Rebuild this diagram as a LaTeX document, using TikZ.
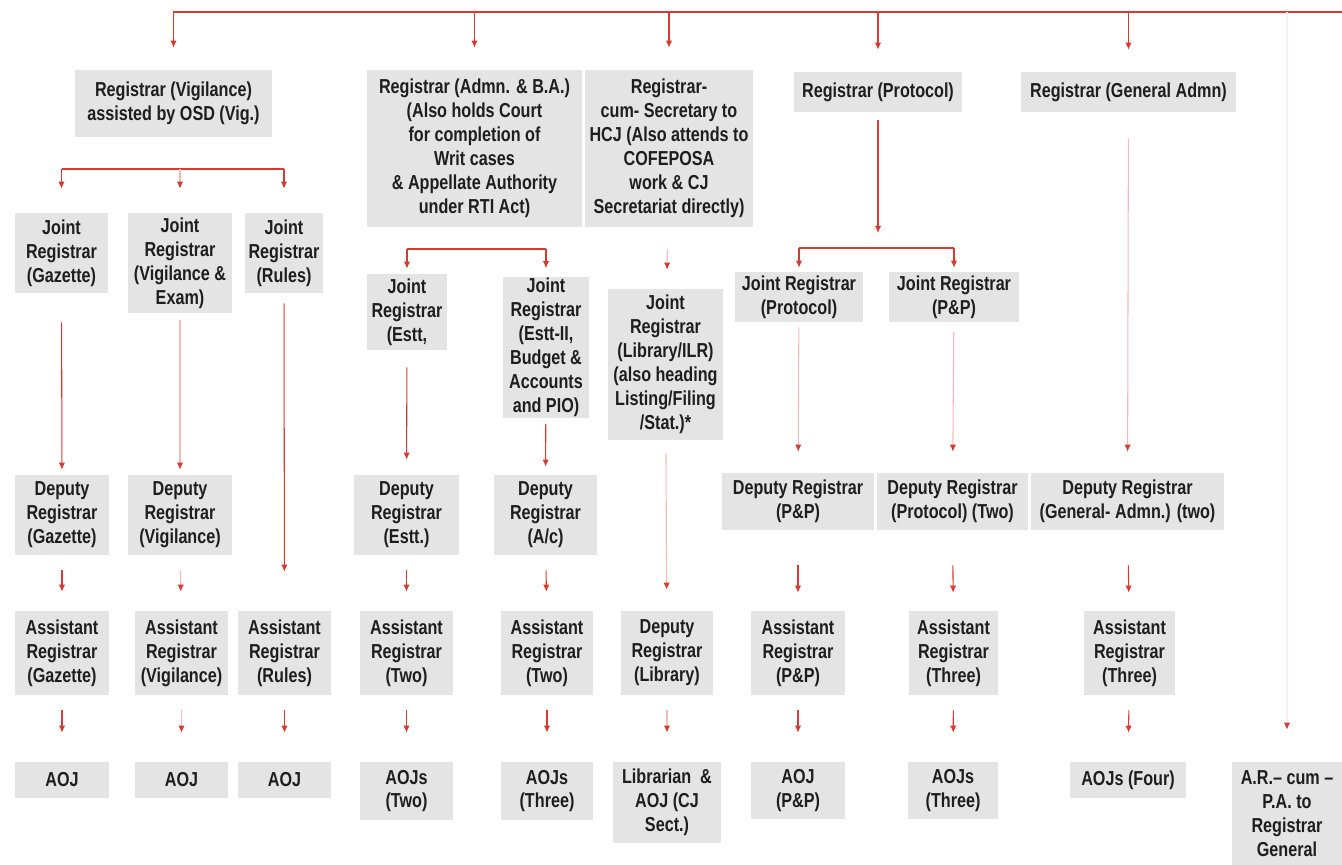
\documentclass[tikz,border=0pt]{standalone}
\usepackage{fontspec}
\setmainfont{Liberation Sans}[FakeStretch=0.8]
\usetikzlibrary{arrows.meta}
\definecolor{boxgray}{HTML}{E4E4E4}
\definecolor{linkred}{HTML}{D63A30}
\definecolor{txt}{HTML}{1E1E1E}
\begin{document}
\begin{tikzpicture}[x=0.02cm,y=-0.02cm,line join=round,
	box/.style={fill=boxgray,align=center,inner sep=1pt,text=txt,font=\bfseries\fontsize{11.5}{13.6}\selectfont},
	sz/.style 2 args={minimum width=#1*0.02cm,minimum height=#2*0.02cm},
	gap/.style 2 args={shorten <=#1*0.02cm,shorten >=#2*0.02cm},
	bar/.style={draw=linkred,line width=.6pt},
	link/.style={bar,-{Latex[length=4pt,width=3.6pt]}},
	faint/.style={draw=linkred!35,line width=.6pt,-{Latex[length=4pt,width=3.6pt,color=linkred]}}]
	\useasboundingbox (0,0) rectangle (1342,865);
	% registrars
	\node[box,sz={197}{67}] (regvig) at (173.5,103.5) {Registrar (Vigilance)\\assisted by OSD (Vig.)};
	\node[box,sz={215}{157}] (regadm) at (474.5,148.5) {Registrar (Admn. \& B.A.)\\(Also holds Court\\for completion of\\Writ cases\\\& Appellate Authority\\under RTI Act)};
	\node[box,sz={168}{157}] (regsec) at (669,148.5) {Registrar-\\cum- Secretary to\\HCJ (Also attends to\\COFEPOSA\\work \& CJ\\Secretariat directly)};
	\node[box,sz={168}{40}] (regprot) at (878,92) {Registrar (Protocol)};
	\node[box,sz={215}{40}] (reggen) at (1128.5,92) {Registrar (General Admn)};
	% joint registrars
	\node[box,sz={93}{80}] (jrgaz) at (61.5,253) {Joint\\Registrar\\(Gazette)};
	\node[box,sz={104}{100}] (jrvig) at (180,263) {Joint\\Registrar\\(Vigilance \&\\Exam)};
	\node[box,sz={78}{80}] (jrrules) at (284,253) {Joint\\Registrar\\(Rules)};
	\node[box,sz={80}{76}] (jrestt) at (407,312) {Joint\\Registrar\\(Estt,};
	\node[box,sz={86}{141}] (jrbud) at (546,347.5) {Joint\\Registrar\\(Estt-II,\\Budget \&\\Accounts\\and PIO)};
	\node[box,sz={115}{151}] (jrlib) at (665.5,364.5) {Joint\\Registrar\\(Library/ILR)\\(also heading\\Listing/Filing\\/Stat.)*};
	\node[box,sz={128}{50}] (jrprot) at (799,297) {Joint Registrar\\(Protocol)};
	\node[box,sz={130}{50}] (jrpp) at (954,297) {Joint Registrar\\(P\&P)};
	% deputy registrars
	\node[box,sz={94}{80}] (drgaz) at (62,515) {Deputy\\Registrar\\(Gazette)};
	\node[box,sz={104}{80}] (drvig) at (180,515) {Deputy\\Registrar\\(Vigilance)};
	\node[box,sz={105}{80}] (drestt) at (406.5,515) {Deputy\\Registrar\\(Estt.)};
	\node[box,sz={103}{80}] (drac) at (545.5,515) {Deputy\\Registrar\\(A/c)};
	\node[box,sz={152}{57}] (drpp) at (798,501.5) {Deputy Registrar\\(P\&P)};
	\node[box,sz={151}{57}] (drprot) at (952.5,501.5) {Deputy Registrar\\(Protocol) (Two)};
	\node[box,sz={193}{57}] (drgen) at (1127.5,501.5) {Deputy Registrar\\(General- Admn.) (two)};
	% assistant registrars
	\node[box,sz={94}{84}] (argaz) at (62,653) {Assistant\\Registrar\\(Gazette)};
	\node[box,sz={93}{84}] (arvig) at (181.5,653) {Assistant\\Registrar\\(Vigilance)};
	\node[box,sz={93}{84}] (arrules) at (284.5,653) {Assistant\\Registrar\\(Rules)};
	\node[box,sz={93}{84}] (arestt) at (406.5,653) {Assistant\\Registrar\\(Two)};
	\node[box,sz={92}{84}] (arac) at (547,653) {Assistant\\Registrar\\(Two)};
	\node[box,sz={92}{84}] (drlib) at (667,653) {Deputy\\Registrar\\(Library)};
	\node[box,sz={94}{84}] (arpp) at (798,653) {Assistant\\Registrar\\(P\&P)};
	\node[box,sz={89}{84}] (arprot) at (953.5,653) {Assistant\\Registrar\\(Three)};
	\node[box,sz={91}{84}] (argen) at (1129.5,653) {Assistant\\Registrar\\(Three)};
	% bottom row
	\node[box,sz={94}{36}] (aojgaz) at (62,780) {AOJ};
	\node[box,sz={93}{36}] (aojvig) at (181.5,780) {AOJ};
	\node[box,sz={93}{36}] (aojrules) at (284.5,780) {AOJ};
	\node[box,sz={93}{58}] (aojestt) at (406.5,791) {AOJs\\(Two)};
	\node[box,sz={92}{58}] (aojac) at (547,791) {AOJs\\(Three)};
	\node[box,sz={108}{81}] (libr) at (667,802.5) {Librarian \ \&\\AOJ (CJ\\Sect.)};
	\node[box,sz={94}{57}] (aojpp) at (798,790.5) {AOJ\\(P\&P)};
	\node[box,sz={90}{57}] (aojprot) at (953,790.5) {AOJs\\(Three)};
	\node[box,sz={116}{36}] (aojgen) at (1128,780) {AOJs (Four)};
	\node[box,sz={110}{103}] (arcum) at (1287,813.5) {A.R.-- cum --\\P.A. to\\Registrar\\General};
	% top line
	\coordinate (top) at (173,12);
	\coordinate (topend) at (1342,12);
	\draw[bar] (top) -- (topend);
	\draw[link,gap={0}{22}] (regvig.north |- top) -- (regvig.north);
	\draw[link,gap={0}{22}] (regadm.north |- top) -- (regadm.north);
	\draw[link,gap={0}{22}] (regsec.north |- top) -- (regsec.north);
	\draw[link,gap={0}{22}] (regprot.north |- top) -- (regprot.north);
	\draw[link,gap={0}{22}] (reggen.north |- top) -- (reggen.north);
	\draw[faint,draw=linkred!8,gap={0}{32}] (arcum.north |- top) -- (arcum.north);
	% vigilance
	\coordinate (vigbar) at (0,169);
	\draw[bar] (jrgaz.north |- vigbar) -- (jrrules.north |- vigbar);
	\draw[link,gap={0}{24}] (jrgaz.north |- vigbar) -- (jrgaz.north);
	\draw[faint,gap={0}{24}] (jrvig.north |- vigbar) -- (jrvig.north);
	\draw[link,gap={0}{24}] (jrrules.north |- vigbar) -- (jrrules.north);
	\draw[link,gap={29}{5}] (jrgaz) -- (drgaz);
	\draw[faint,gap={7}{5}] (jrvig) -- (drvig);
	\draw[link,gap={10}{39}] (jrrules) -- (arrules);
	\draw[link,gap={15}{19}] (drgaz) -- (argaz);
	\draw[faint,gap={15}{19}] (drvig) -- (arvig);
	\draw[link,gap={15}{29}] (argaz) -- (aojgaz);
	\draw[faint,gap={15}{29}] (arvig) -- (aojvig);
	\draw[link,gap={15}{29}] (arrules) -- (aojrules);
	% admn
	\coordinate (admbar) at (0,249);
	\draw[bar] (jrestt.north |- admbar) -- (jrbud.north |- admbar);
	\draw[link,gap={0}{5}] (jrestt.north |- admbar) -- (jrestt.north);
	\draw[link,gap={0}{8}] (jrbud.north |- admbar) -- (jrbud.north);
	\draw[link,gap={17}{15}] (jrestt) -- (drestt);
	\draw[link,gap={5}{8}] (jrbud) -- (drac);
	\draw[link,gap={15}{19}] (drestt) -- (arestt);
	\draw[link,gap={15}{19}] (drac) -- (arac);
	\draw[link,gap={15}{29}] (arestt) -- (aojestt);
	\draw[link,gap={15}{29}] (arac) -- (aojac);
	% secretary
	\draw[faint,gap={22}{19}] (regsec) -- (jrlib);
	\draw[faint,gap={13}{21}] (jrlib) -- (drlib);
	\draw[faint,gap={15}{29}] (drlib) -- (libr);
	% protocol
	\coordinate (protbar) at (0,248);
	\draw[link,gap={8}{15}] (regprot.south) -- (regprot.south |- protbar);
	\draw[bar] (jrprot.north |- protbar) -- (jrpp.north |- protbar);
	\draw[link,gap={0}{4}] (jrprot.north |- protbar) -- (jrprot.north);
	\draw[link,gap={0}{4}] (jrpp.north |- protbar) -- (jrpp.north);
	\draw[faint,gap={5}{21}] (jrprot) -- (drpp);
	\draw[faint,gap={10}{21}] (jrpp) -- (drprot);
	\draw[link,gap={35}{18}] (drpp) -- (arpp);
	\draw[link,gap={35}{18}] (drprot) -- (arprot);
	\draw[link,gap={15}{29}] (arpp) -- (aojpp);
	\draw[link,gap={15}{29}] (arprot) -- (aojprot);
	% general admn
	\draw[faint,gap={26}{21}] (reggen) -- (drgen);
	\draw[link,gap={35}{18}] (drgen) -- (argen);
	\draw[link,gap={15}{29}] (argen) -- (aojgen);
\end{tikzpicture}
\end{document}
